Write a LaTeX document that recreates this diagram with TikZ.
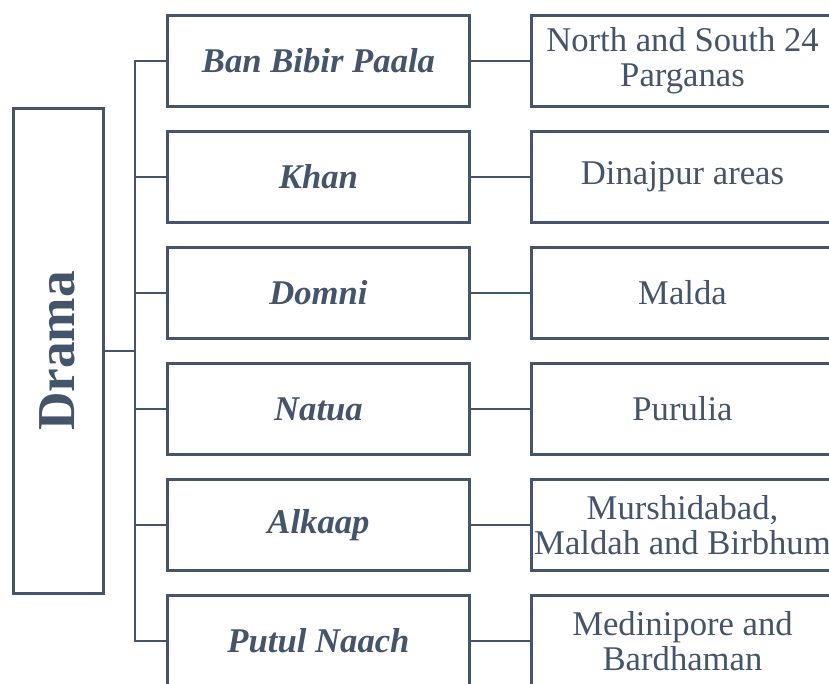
\documentclass[tikz,border=0pt]{standalone}
\usepackage{fontspec}
\setmainfont{Liberation Serif}
\definecolor{slate}{HTML}{44546A}
\begin{document}
\begin{tikzpicture}[x=0.75pt,y=-0.75pt,
    every node/.style = {text=slate, align=center},
    box/.style = {draw=slate, line width=2.25pt, minimum width=226.5pt, minimum height=68.25pt, inner sep=0pt},
    kind/.style = {box, font=\fontsize{26}{27}\selectfont\bfseries\itshape},
    place/.style = {box, font=\fontsize{26}{26.5}\selectfont},
    link/.style = {draw=slate, line width=1.5pt}]
    \clip (0,0) rectangle (829,684);
    \useasboundingbox (0,0) rectangle (829,684);

    \node[draw=slate, line width=2.25pt, minimum width=67.5pt, minimum height=363.75pt, inner sep=0pt] (drama) at (58.5,351) {};
    \node[rotate=90, font=\fontsize{40}{42}\selectfont\bfseries] (dramatext) at (57.5,351) {Drama};

    \node[kind] (m1) at (318.5,61)  {Ban Bibir Paala};
    \node[kind] (m2) at (318.5,177) {Khan};
    \node[kind] (m3) at (318.5,293) {Domni};
    \node[kind] (m4) at (318.5,409) {Natua};
    \node[kind] (m5) at (318.5,525) {Alkaap};
    \node[kind] (m6) at (318.5,641) {Putul Naach};

    \node[place] (r1) at (682.5,61)  {North and South 24\\Parganas};
    \node[place] (r2) at (682.5,177) {Dinajpur areas};
    \node[place] (r3) at (682.5,293) {Malda};
    \node[place] (r4) at (682.5,409) {Purulia};
    \node[place] (r5) at (682.5,525) {Murshidabad,\\Maldah and Birbhum};
    \node[place] (r6) at (682.5,641) {Medinipore and\\Bardhaman};

    % tree lines
    \coordinate (spine) at (135,351);
    \draw[link] (drama.east) -- (spine);
    \draw[link] (spine) |- (m1.west);
    \draw[link] (spine) |- (m2.west);
    \draw[link] (spine) |- (m3.west);
    \draw[link] (spine) |- (m4.west);
    \draw[link] (spine) |- (m5.west);
    \draw[link] (spine) |- (m6.west);

    \draw[link] (m1) -- (r1);
    \draw[link] (m2) -- (r2);
    \draw[link] (m3) -- (r3);
    \draw[link] (m4) -- (r4);
    \draw[link] (m5) -- (r5);
    \draw[link] (m6) -- (r6);
\end{tikzpicture}
\end{document}
